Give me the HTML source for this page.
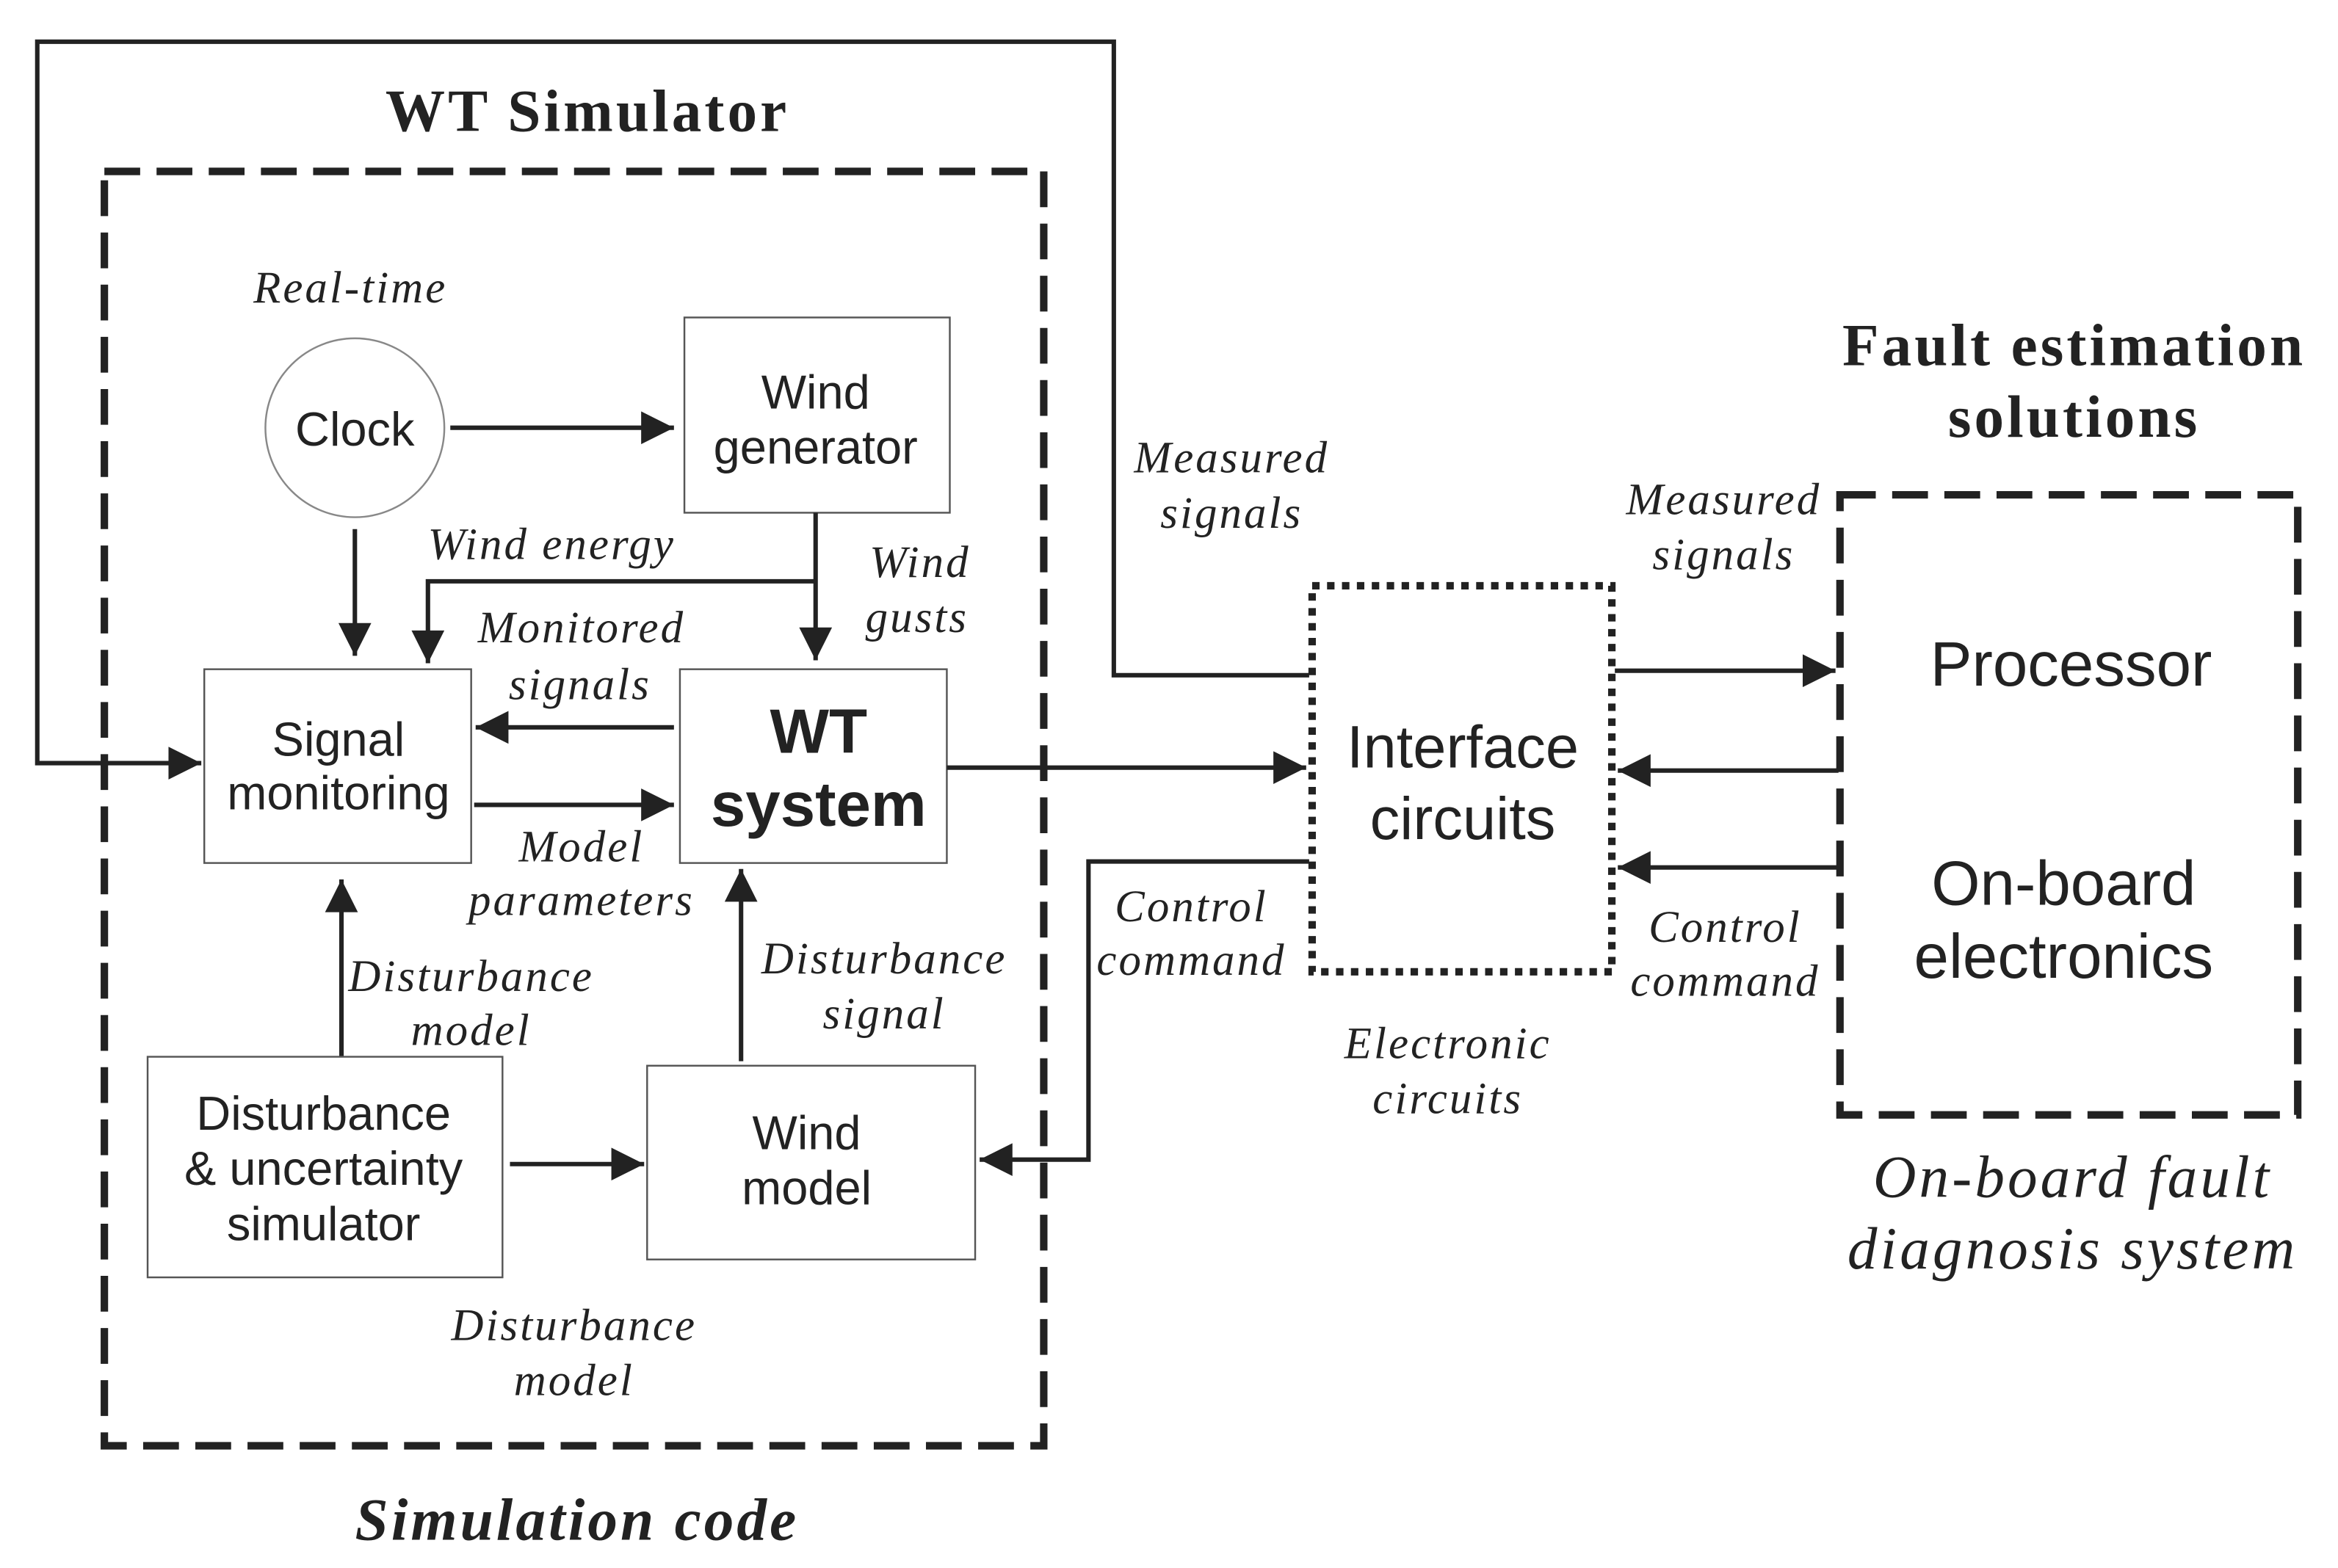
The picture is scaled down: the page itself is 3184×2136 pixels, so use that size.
<!DOCTYPE html>
<html><head><meta charset="utf-8"><style>
html,body{margin:0;padding:0;background:#fff;}
svg{display:block;}
.it{font-family:"Liberation Serif",serif;font-style:italic;font-size:30px;fill:#222;letter-spacing:1.5px;}
.sa{font-family:"Liberation Sans",sans-serif;font-size:32px;fill:#222;}
.bx{fill:#fff;stroke:#555;stroke-width:1.2;}
.ln{stroke:#222;stroke-width:3;fill:none;}
.bt{font-family:"Liberation Serif",serif;font-weight:bold;font-size:40px;fill:#222;letter-spacing:2px;}
</style></head><body>
<svg width="3184" height="2136" viewBox="0 0 1568 1052" preserveAspectRatio="none" xmlns="http://www.w3.org/2000/svg">
<defs>
<marker id="b" viewBox="0 0 10 10" refX="10" refY="5" markerWidth="24" markerHeight="22" orient="auto" markerUnits="userSpaceOnUse"><path d="M0,0 L10,5 L0,10 z" fill="#222"/></marker></defs>

<path class="ln" d="M878,453 L747,453 L747,28 L25,28 L25,512 L135,512" marker-end="url(#b)"/>

<rect x="70" y="115" width="630" height="855" fill="none" stroke="#222" stroke-width="5" stroke-dasharray="24,11"/>
<text class="bt" x="394" y="88" text-anchor="middle">WT Simulator</text>
<text class="bt" x="387" y="1033" text-anchor="middle" font-style="italic">Simulation code</text>

<text class="it" x="235" y="203" text-anchor="middle">Real-time</text>
<circle cx="238" cy="287" r="60" fill="#fff" stroke="#888" stroke-width="1.2"/>
<text class="sa" x="238" y="299" text-anchor="middle">Clock</text>

<rect class="bx" x="459" y="213" width="178" height="131"/>
<text class="sa" x="547" y="274" text-anchor="middle">Wind</text>
<text class="sa" x="547" y="311" text-anchor="middle">generator</text>

<path class="ln" d="M302,287 L452,287" marker-end="url(#b)"/>
<path class="ln" d="M238,355 L238,440" marker-end="url(#b)"/>
<path class="ln" d="M547,344 L547,443" marker-end="url(#b)"/>
<path class="ln" d="M547,390 L287,390 L287,445" marker-end="url(#b)"/>

<text class="it" x="370" y="375" text-anchor="middle">Wind energy</text>
<text class="it" x="617" y="387" text-anchor="middle">Wind</text>
<text class="it" x="615" y="424" text-anchor="middle">gusts</text>
<text class="it" x="390" y="431" text-anchor="middle">Monitored</text>
<text class="it" x="389" y="469" text-anchor="middle">signals</text>

<rect class="bx" x="137" y="449" width="179" height="130"/>
<text class="sa" x="227" y="507" text-anchor="middle">Signal</text>
<text class="sa" x="227" y="543" text-anchor="middle">monitoring</text>

<rect class="bx" x="456" y="449" width="179" height="130"/>
<text x="549" y="505" text-anchor="middle" font-family="Liberation Sans,sans-serif" font-weight="bold" font-size="42" fill="#222">WT</text>
<text x="549" y="554" text-anchor="middle" font-family="Liberation Sans,sans-serif" font-weight="bold" font-size="42" fill="#222">system</text>

<path class="ln" d="M452,488 L319,488" marker-end="url(#b)"/>
<path class="ln" d="M318,540 L452,540" marker-end="url(#b)"/>
<text class="it" x="390" y="578" text-anchor="middle">Model</text>
<text class="it" x="390" y="614" text-anchor="middle">parameters</text>

<path class="ln" d="M635,515 L876,515" marker-end="url(#b)"/>

<path class="ln" d="M229,709 L229,590" marker-end="url(#b)"/>
<text class="it" x="316" y="665" text-anchor="middle">Disturbance</text>
<text class="it" x="316" y="701" text-anchor="middle">model</text>
<path class="ln" d="M497,712 L497,583" marker-end="url(#b)"/>
<text class="it" x="593" y="653" text-anchor="middle">Disturbance</text>
<text class="it" x="593" y="690" text-anchor="middle">signal</text>

<rect class="bx" x="99" y="709" width="238" height="148"/>
<text class="sa" x="217" y="758" text-anchor="middle">Disturbance</text>
<text class="sa" x="217" y="795" text-anchor="middle">&amp; uncertainty</text>
<text class="sa" x="217" y="832" text-anchor="middle">simulator</text>

<rect class="bx" x="434" y="715" width="220" height="130"/>
<text class="sa" x="541" y="771" text-anchor="middle">Wind</text>
<text class="sa" x="541" y="808" text-anchor="middle">model</text>

<path class="ln" d="M342,781 L432,781" marker-end="url(#b)"/>
<text class="it" x="385" y="899" text-anchor="middle">Disturbance</text>
<text class="it" x="385" y="936" text-anchor="middle">model</text>

<path class="ln" d="M878,578 L730,578 L730,778 L657,778" marker-end="url(#b)"/>
<text class="it" x="799" y="618" text-anchor="middle">Control</text>
<text class="it" x="799" y="654" text-anchor="middle">command</text>
<text class="it" x="826" y="317" text-anchor="middle">Measured</text>
<text class="it" x="826" y="354" text-anchor="middle">signals</text>

<rect x="880" y="393" width="201" height="259" fill="#fff" stroke="#222" stroke-width="5" stroke-dasharray="5,5"/>
<text x="981" y="515" text-anchor="middle" font-family="Liberation Sans,sans-serif" font-size="40" fill="#222">Interface</text>
<text x="981" y="563" text-anchor="middle" font-family="Liberation Sans,sans-serif" font-size="40" fill="#222">circuits</text>
<text class="it" x="971" y="710" text-anchor="middle">Electronic</text>
<text class="it" x="971" y="747" text-anchor="middle">circuits</text>

<path class="ln" d="M1083,450 L1231,450" marker-end="url(#b)"/>
<path class="ln" d="M1233,517 L1085,517" marker-end="url(#b)"/>
<path class="ln" d="M1233,582 L1085,582" marker-end="url(#b)"/>
<text class="it" x="1156" y="345" text-anchor="middle">Measured</text>
<text class="it" x="1156" y="382" text-anchor="middle">signals</text>
<text class="it" x="1157" y="632" text-anchor="middle">Control</text>
<text class="it" x="1157" y="668" text-anchor="middle">command</text>

<text class="bt" x="1391" y="245" text-anchor="middle">Fault estimation</text>
<text class="bt" x="1391" y="293" text-anchor="middle">solutions</text>

<rect x="1234" y="332" width="307" height="416" fill="#fff" stroke="#222" stroke-width="5" stroke-dasharray="24,11"/>
<text x="1389" y="460" text-anchor="middle" font-family="Liberation Sans,sans-serif" font-size="42" fill="#222">Processor</text>
<text x="1384" y="607" text-anchor="middle" font-family="Liberation Sans,sans-serif" font-size="42" fill="#222">On-board</text>
<text x="1384" y="656" text-anchor="middle" font-family="Liberation Sans,sans-serif" font-size="42" fill="#222">electronics</text>
<text x="1390" y="803" text-anchor="middle" font-family="Liberation Serif,serif" font-style="italic" font-size="40" fill="#222" letter-spacing="2">On-board fault</text>
<text x="1390" y="851" text-anchor="middle" font-family="Liberation Serif,serif" font-style="italic" font-size="40" fill="#222" letter-spacing="2">diagnosis system</text>
</svg>
</body></html>
